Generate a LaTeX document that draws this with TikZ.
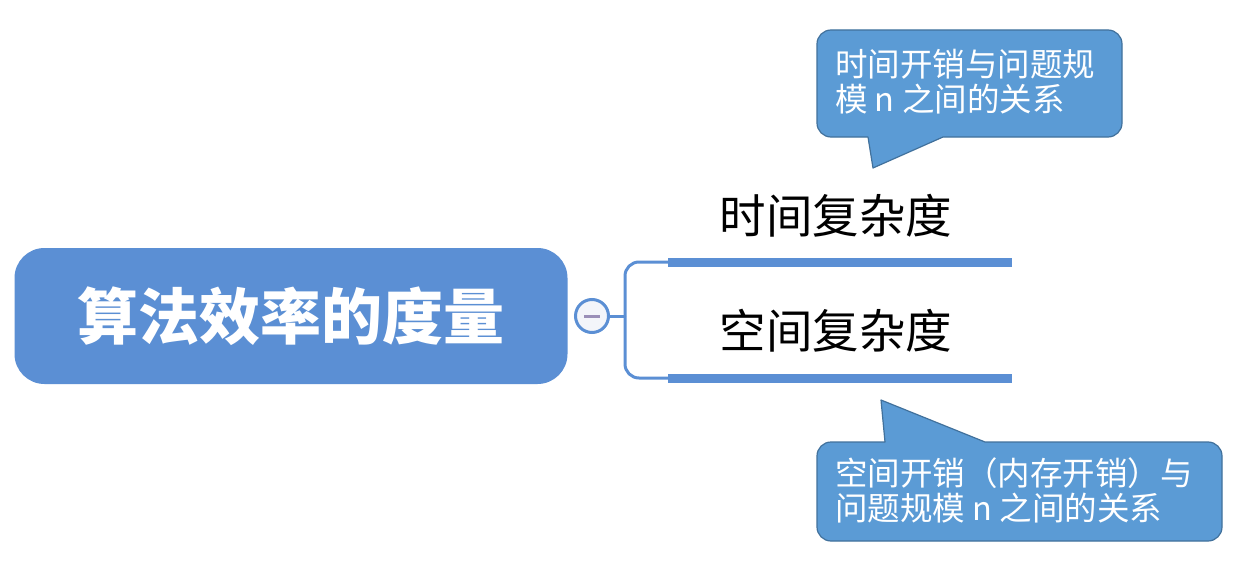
\documentclass[tikz,border=0pt]{standalone}
\usepackage{fontspec}
\newfontfamily\cjk{Noto Sans CJK SC}
\definecolor{mainblue}{HTML}{5B8FD4}
\definecolor{callblue}{HTML}{5B9BD5}
\definecolor{callborder}{HTML}{41719C}
\definecolor{minuscol}{HTML}{9A8FB8}
\definecolor{circfill}{HTML}{F3F5FA}
\begin{document}
\begin{tikzpicture}[x=1pt,y=-1pt,
  mainbox/.style={fill=mainblue, rounded corners=30pt, minimum width=553pt, minimum height=136pt,
    text=white, font=\cjk\bfseries\fontsize{61}{65}\selectfont, inner sep=0pt},
  topic/.style={font=\cjk\fontsize{46.5}{50}\selectfont, text=black, inner sep=0pt},
  callout/.style={fill=callblue, draw=callborder, line width=1.2pt, line join=round},
  calltext/.style={font=\cjk\fontsize{32.5}{35}\selectfont, text=white, align=left, anchor=north west, inner sep=0pt},
  branch/.style={draw=mainblue, line width=3pt},
  underline/.style={draw=mainblue, line width=9pt},
  toggle/.style={circle, draw=mainblue, line width=3pt, fill=circfill, minimum size=33pt, inner sep=0pt}
]
\useasboundingbox (0,0) rectangle (1243,578);
\fill[white] (0,0) rectangle (1243,578);

% main topic
\node[mainbox] (main) at (291,316) {算法效率的度量};

% collapse toggle
\node[toggle] (tog) at (592,316) {};
\draw[minuscol, line width=3pt] ([xshift=-8pt]tog.center) -- ([xshift=8pt]tog.center);

% junction and underline coordinates
\coordinate (junc) at (625,316);
\coordinate (u1s) at (668,262);
\coordinate (u1e) at (1012,262);
\coordinate (u2s) at (668,378);
\coordinate (u2e) at (1012,378);

\draw[branch] (tog.east) -- (junc);
\draw[branch, rounded corners=14pt] (junc) |- (u1s);
\draw[branch, rounded corners=14pt] (junc) |- (u2s);
\draw[underline] (u1s) -- (u1e);
\draw[underline] (u2s) -- (u2e);

% topics
\node[topic] (t1) at (836,216) {时间复杂度};
\node[topic] (t2) at (836,331) {空间复杂度};

% callout 1
\draw[callout, rounded corners=14pt] (817,80) -- (817,30) -- (1122,30) -- (1122,137)
  [sharp corners] -- (943,137) -- (873,168) -- (868,137) [rounded corners=14pt] -- (817,137) -- cycle;
\node[calltext] (c1) at (835,49) {时间开销与问题规\\模 n 之间的关系};

% callout 2
\draw[callout, rounded corners=14pt] (817,490) -- (817,442)
  [sharp corners] -- (885,442) -- (881,400) -- (985,442) [rounded corners=14pt] -- (1222,442) -- (1222,541) -- (817,541) -- cycle;
\node[calltext] (c2) at (835,457) {空间开销（内存开销）与\\问题规模 n 之间的关系};
\end{tikzpicture}
\end{document}
